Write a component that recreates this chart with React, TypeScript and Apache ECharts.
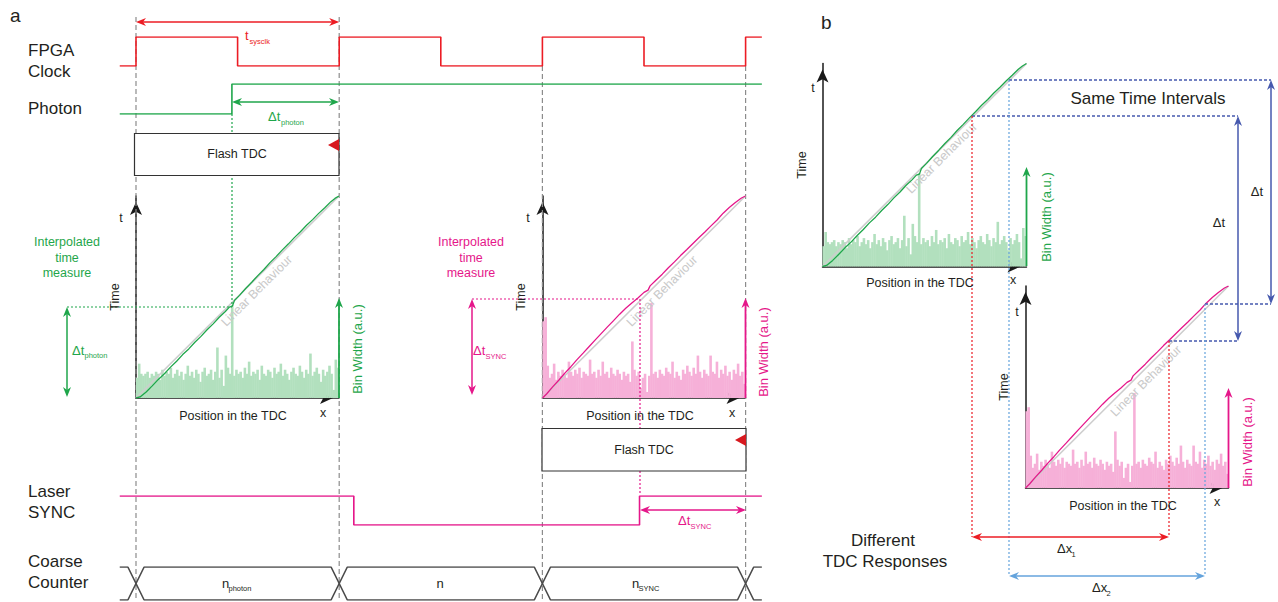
import React, { useEffect, useRef } from 'react';
import * as echarts from 'echarts';

// ---------------- DATA ----------------
// Timing diagram, time in FPGA clock periods (rising edges at integers)
const clockPoints: [number, number][] = [[-0.08, 0], [0, 1], [0.5, 0], [1, 1], [1.5, 0], [2, 1], [2.5, 0], [3, 1], [3.08, 1]];
const photonPoints: [number, number][] = [[-0.08, 0], [0.472, 1], [3.08, 1]];
const syncPoints: [number, number][] = [[-0.08, 1], [1.072, 0], [2.478, 1], [3.08, 1]];
const counterEdges = [0, 1, 2, 3];
const timeRange = [-0.08, 3.08];

// Bin widths (a.u.) of the two TDC responses
const histGreen = [
  10, 17, 12, 11, 12, 13, 10, 12, 11, 13,
  12, 9, 14, 11, 13, 12, 15, 10, 12, 14,
  11, 13, 9, 12, 16, 11, 13, 10, 14, 12,
  8, 13, 15, 11, 12, 14, 9, 13, 25, 10,
  14, 6, 21, 15, 12, 46, 11, 14, 12, 13,
  10, 15, 12, 18, 11, 13, 12, 14, 9, 16,
  12, 11, 14, 13, 10, 15, 12, 13, 17, 11,
  14, 12, 9, 13, 15, 12, 11, 16, 13, 10,
  14, 12, 22, 11, 13, 15, 12, 8, 14, 11,
  13, 16, 12, 4, 19, 15,
];
const histPink = [
  38, 40, 16, 10, 12, 17, 9, 13, 11, 14,
  12, 10, 18, 13, 11, 14, 12, 15, 10, 13,
  12, 11, 19, 12, 13, 10, 14, 11, 18, 12,
  13, 10, 15, 12, 11, 14, 12, 9, 13, 11,
  12, 8, 28, 14, 11, 13, 5, 10, 12, 3,
  11, 47, 12, 13, 10, 14, 12, 11, 15, 13,
  12, 18, 10, 13, 11, 9, 14, 12, 16, 13,
  11, 15, 12, 21, 13, 10, 14, 12, 11, 21,
  13, 12, 18, 10, 14, 12, 16, 11, 13, 9,
  14, 12, 17, 11, 13, 7,
];

// Interpolated time vs position in the TDC
const curveGreenX = [0, 2, 5, 8, 11, 14, 17, 20, 23, 26, 29, 32, 35, 38, 41, 44, 46, 47.5, 48.5, 51, 54, 57, 60, 63, 66, 69, 72, 75, 78, 81, 84, 87, 90, 93, 96, 98, 100];
const curveGreenY = [0, 0.5, 3, 6, 9.2, 12, 15.3, 18.2, 21.5, 24.3, 27.6, 30.5, 33.8, 36.7, 40, 42.8, 45, 45.5, 48.3, 50.8, 54.2, 57.3, 60.6, 63.6, 67, 70, 73.2, 76.2, 79.4, 82.3, 85.5, 88.3, 91.4, 94.2, 97.2, 98.8, 100];
const curvePinkX = [0, 2, 5, 8, 11, 14, 17, 20, 23, 26, 29, 32, 35, 38, 41, 44, 47, 50, 52, 53, 56, 59, 62, 65, 68, 71, 74, 77, 80, 83, 86, 89, 92, 95, 98, 100];
const curvePinkY = [0, 2, 5.5, 8.8, 12.3, 15.5, 19, 22.2, 25.5, 28.8, 32, 35.2, 38.3, 41.5, 44.4, 47, 49.5, 52.3, 53.4, 55.5, 58.4, 61.3, 64.5, 67.4, 70.5, 73.4, 76.4, 79.3, 82.2, 85.2, 88.1, 91.5, 94.3, 96.8, 99, 100];
const linearX = [0, 100];
const linearY = [0, 100];

// ---------------- STYLE ----------------
const FONT = '"Liberation Sans", Arial, Helvetica, sans-serif';
const RED = '#ec1c24';
const GREEN = '#1fa64b';
const PINK = '#e5178a';
const DBLUE = '#4659ae';
const LBLUE = '#64a3dc';
const GREY = '#8c8c8c';
const DARK = '#231f20';
const GREEN_BAR = '#b2e0be';
const PINK_BAR = '#f6b0d8';

const P = 203.2; // px per clock period
const X0 = 136;
const TL = X0 + timeRange[0] * P;
const TW = (timeRange[1] - timeRange[0]) * P;

function txt(text: string, x: number, y: number, size: number, color: string, align = 'center', rot = 0) {
  return {
    type: 'text', x, y, rotation: rot, z: 80,
    style: { text, fill: color, font: `${size}px ${FONT}`, textAlign: align, textVerticalAlign: 'middle' },
  };
}
function sub(main: string, s: string, x: number, y: number, color: string, subDx: number, subDy = 6) {
  return [txt(main, x, y, 13, color, 'left'), txt(s, x + subDx, y + subDy, 7.5, color, 'left')];
}
function head(tx: number, ty: number, dx: number, dy: number, color: string, len = 10, hw = 4) {
  const px = -dy, py = dx;
  const bx = tx - dx * len, by = ty - dy * len;
  const ix = tx - dx * (len - 3), iy = ty - dy * (len - 3);
  return {
    type: 'polygon', z: 70,
    shape: { points: [[tx, ty], [bx + px * hw, by + py * hw], [ix, iy], [bx - px * hw, by - py * hw]] },
    style: { fill: color },
  };
}
function arrow(x1: number, y1: number, x2: number, y2: number, color: string, both = true, lw = 1.5) {
  const L = Math.hypot(x2 - x1, y2 - y1);
  const dx = (x2 - x1) / L, dy = (y2 - y1) / L;
  const els: any[] = [{
    type: 'line', z: 70,
    shape: { x1: both ? x1 + dx * 5 : x1, y1: both ? y1 + dy * 5 : y1, x2: x2 - dx * 5, y2: y2 - dy * 5 },
    style: { stroke: color, lineWidth: lw },
  }];
  els.push(head(x2, y2, dx, dy, color));
  if (both) els.push(head(x1, y1, -dx, -dy, color));
  return els;
}
function dline(x1: number, y1: number, x2: number, y2: number, color: string, dash = [2, 2], lw = 1.2, z = 40) {
  return { type: 'line', z, shape: { x1, y1, x2, y2 }, style: { stroke: color, lineWidth: lw, lineDash: dash } };
}

const plotGrids = [
  { left: 136, top: 196, width: 203, height: 202 },
  { left: 542.5, top: 196, width: 203, height: 202 },
  { left: 822.5, top: 63.5, width: 204, height: 203 },
  { left: 1025.5, top: 286, width: 203, height: 202 },
];
const timingGrids = [
  { left: TL, top: 37, width: TW, height: 29 },
  { left: TL, top: 84, width: TW, height: 30 },
  { left: TL, top: 496, width: TW, height: 29 },
  { left: TL, top: 567, width: TW, height: 33 },
];

function busLine(start: number): [number, number][] {
  const h = 0.04;
  let lvl = start;
  const pts: [number, number][] = [[timeRange[0], lvl]];
  counterEdges.forEach((e) => {
    pts.push([e - h, lvl]);
    lvl = 1 - lvl;
    pts.push([e + h, lvl]);
  });
  pts.push([timeRange[1], lvl]);
  return pts;
}
const zip = (xs: number[], ys: number[]) => xs.map((x, i) => [x, ys[i]]);

function buildOption() {
  const plots = [
    { hist: histGreen, cx: curveGreenX, cy: curveGreenY, bar: GREEN_BAR, line: GREEN },
    { hist: histPink, cx: curvePinkX, cy: curvePinkY, bar: PINK_BAR, line: PINK },
    { hist: histGreen, cx: curveGreenX, cy: curveGreenY, bar: GREEN_BAR, line: GREEN },
    { hist: histPink, cx: curvePinkX, cy: curvePinkY, bar: PINK_BAR, line: PINK },
  ];
  const axisLine = {
    show: true, onZero: false, symbol: ['none', 'arrow'], symbolSize: [9, 13], symbolOffset: [0, -6],
    lineStyle: { color: '#1a1a1a', width: 1.5 },
  };
  const xAxis: any[] = [];
  const yAxis: any[] = [];
  const series: any[] = [];
  plots.forEach((p, i) => {
    xAxis.push({ type: 'category', gridIndex: i, position: 'bottom', show: false, data: p.hist.map((_, k) => k) });
    xAxis.push({
      type: 'value', gridIndex: i, position: 'bottom', min: 0, max: 100, axisLine,
      axisTick: { show: false }, axisLabel: { show: false }, splitLine: { show: false },
    });
    yAxis.push({
      type: 'value', gridIndex: i, min: 0, max: 100, axisLine,
      axisTick: { show: false }, axisLabel: { show: false }, splitLine: { show: false },
    });
    series.push({
      type: 'bar', xAxisIndex: 2 * i, yAxisIndex: i, data: p.hist, barWidth: 2.6,
      itemStyle: { color: p.bar, borderWidth: 0 }, silent: true, z: 2,
    });
    series.push({
      type: 'line', xAxisIndex: 2 * i + 1, yAxisIndex: i, data: zip(linearX, linearY), symbol: 'none',
      lineStyle: { color: '#cdcdcd', width: 1.6 }, silent: true, z: 3,
    });
    series.push({
      type: 'line', xAxisIndex: 2 * i + 1, yAxisIndex: i, data: zip(p.cx, p.cy), symbol: 'none',
      lineStyle: { color: p.line, width: 1.3 }, silent: true, z: 4,
    });
  });
  timingGrids.forEach((_, j) => {
    xAxis.push({ type: 'value', gridIndex: 4 + j, min: timeRange[0], max: timeRange[1], show: false });
    yAxis.push({ type: 'value', gridIndex: 4 + j, min: 0, max: 1, show: false });
  });
  const sig = (j: number, data: any, color: string, step: any) => ({
    type: 'line', xAxisIndex: 8 + j, yAxisIndex: 4 + j, data, step, symbol: 'none',
    lineStyle: { color, width: 1.6 }, silent: true, z: 5,
  });
  series.push(sig(0, clockPoints, RED, 'end'));
  series.push(sig(1, photonPoints, GREEN, 'end'));
  series.push(sig(2, syncPoints, PINK, 'end'));
  series.push(sig(3, busLine(1), '#4a4a4a', false));
  series.push(sig(3, busLine(0), '#4a4a4a', false));

  const edgesPx = [0, 1, 2, 3].map((k) => X0 + k * P);
  const g: any[] = [];
  // grey guide lines
  g.push(dline(edgesPx[0], 17, edgesPx[0], 600, GREY, [5, 3], 1.2, 1));
  g.push(dline(edgesPx[1], 17, edgesPx[1], 600, GREY, [5, 3], 1.2, 1));
  g.push(dline(edgesPx[2], 66, edgesPx[2], 600, GREY, [5, 3], 1.2, 1));
  g.push(dline(edgesPx[3], 66, edgesPx[3], 600, GREY, [5, 3], 1.2, 1));

  // panel letters & signal names
  g.push(txt('a', 10, 15, 19, DARK, 'left'));
  g.push(txt('b', 821, 22, 19, DARK, 'left'));
  g.push(txt('FPGA', 28, 50, 17, DARK, 'left'));
  g.push(txt('Clock', 28, 71, 17, DARK, 'left'));
  g.push(txt('Photon', 28, 108, 17, DARK, 'left'));
  g.push(txt('Laser', 28, 491, 17, DARK, 'left'));
  g.push(txt('SYNC', 28, 512, 17, DARK, 'left'));
  g.push(txt('Coarse', 28, 561, 17, DARK, 'left'));
  g.push(txt('Counter', 28, 582, 17, DARK, 'left'));

  // t_sysclk
  g.push(...arrow(edgesPx[0], 22, edgesPx[1], 22, RED, true, 1.5));
  g.push(...sub('t', 'sysclk', 245, 35, RED, 4.5, 6.5));
  // photon
  g.push(...arrow(232, 102, 339, 102, GREEN, true, 1.5));
  g.push(...sub('Δt', 'photon', 268, 116, GREEN, 13, 6.5));
  g.push(dline(232, 114, 232, 306, GREEN));
  g.push(dline(67, 307, 232, 307, GREEN));
  g.push(...arrow(67, 307, 67, 397, GREEN, true, 1.5));
  g.push(...sub('Δt', 'photon', 72, 350, GREEN, 12.5, 5.5));
  ['Interpolated', 'time', 'measure'].forEach((s, k) => g.push(txt(s, 67, 242 + k * 15.5, 12.5, GREEN)));

  // Flash TDC boxes
  g.push(dline(640, 299, 640, 495, PINK, [2, 2], 1.2, 40));
  g.push(dline(472, 299, 640, 299, PINK));
  g.push({ type: 'rect', z: 50, shape: { x: 134.5, y: 133.5, width: 204.5, height: 42 }, style: { fill: '#fff', stroke: '#333', lineWidth: 1.2 } });
  g.push({ type: 'polygon', z: 55, shape: { points: [[339, 139], [339, 151], [328, 145]] }, style: { fill: '#d7191f' } });
  g.push(txt('Flash TDC', 237, 154, 12.5, DARK));
  g.push({ type: 'rect', z: 50, shape: { x: 542, y: 428.5, width: 204, height: 42.5 }, style: { fill: '#fff', stroke: '#333', lineWidth: 1.2 } });
  g.push({ type: 'polygon', z: 55, shape: { points: [[746, 434], [746, 446], [735, 440]] }, style: { fill: '#d7191f' } });
  g.push(txt('Flash TDC', 644, 449.5, 12.5, DARK));

  // sync annotations
  g.push(...arrow(472, 299, 472, 395, PINK, true, 1.5));
  g.push(...sub('Δt', 'SYNC', 473, 350, PINK, 12.5, 6));
  ['Interpolated', 'time', 'measure'].forEach((s, k) => g.push(txt(s, 471, 242 + k * 15.5, 12.5, PINK)));
  g.push(...arrow(640, 510, 746, 510, PINK, true, 1.5));
  g.push(...sub('Δt', 'SYNC', 678, 520, PINK, 12.5, 6.5));

  // coarse counter labels
  g.push(...sub('n', 'photon', 222, 583, DARK, 6.5, 5.5));
  g.push(txt('n', 440, 583, 13, DARK));
  g.push(...sub('n', 'SYNC', 632, 583, DARK, 6.5, 5.5));

  // plot labels
  const plotLabels = [
    { t: [121, 218], time: [115, 297], pos: [233, 416], x: [323, 413], bin: [357, 349], binColor: GREEN, lin: [256.7, 290.8], arrowX: 339, base: 398, top: 298 },
    { t: [528, 218], time: [521, 297], pos: [640, 416], x: [732, 413], bin: [763, 352], binColor: PINK, lin: [662, 291], arrowX: 745.5, base: 398, top: 298 },
    { t: [813, 88], time: [802, 165], pos: [920, 283], x: [1013, 280], bin: [1046, 217], binColor: GREEN, lin: [941.7, 158], arrowX: 1026.5, base: 266, top: 167 },
    { t: [1017, 312], time: [1004, 387], pos: [1123, 506], x: [1217, 502], bin: [1247, 442], binColor: PINK, lin: [1146, 381], arrowX: 1228.5, base: 488, top: 388 },
  ];
  plotLabels.forEach((L) => {
    g.push(txt('t', L.t[0], L.t[1], 12.5, DARK));
    g.push(txt('Time', L.time[0], L.time[1], 12.5, DARK, 'center', Math.PI / 2));
    g.push(txt('Position in the TDC', L.pos[0], L.pos[1], 12.5, DARK));
    g.push(txt('x', L.x[0], L.x[1], 12.5, DARK));
    g.push(txt('Bin Width (a.u.)', L.bin[0], L.bin[1], 13, L.binColor, 'center', Math.PI / 2));
    g.push({ ...txt('Linear Behaviour', L.lin[0], L.lin[1], 12.5, '#c9c9c9', 'center', Math.PI / 4), z: 3 });
    g.push(...arrow(L.arrowX, L.base, L.arrowX, L.top, L.binColor, false, 1.8));
  });

  // panel b annotations
  g.push(txt('Same Time Intervals', 1148, 98, 17, DARK));
  g.push(dline(1009, 80, 1271, 80, DBLUE, [3, 2], 1.3));
  g.push(dline(972, 116, 1238, 116, DBLUE, [3, 2], 1.3));
  g.push(dline(1205, 304, 1271, 304, DBLUE, [3, 2], 1.3));
  g.push(dline(1169, 341, 1238, 341, DBLUE, [3, 2], 1.3));
  g.push(dline(972, 116, 972, 537, RED, [2, 2], 1.2));
  g.push(dline(1169, 341, 1169, 537, RED, [2, 2], 1.2));
  g.push(dline(1009, 80, 1009, 576, LBLUE, [2, 2], 1.2));
  g.push(dline(1205, 304, 1205, 576, LBLUE, [2, 2], 1.2));
  g.push(...arrow(1271, 80, 1271, 304, DBLUE, true, 1.5));
  g.push(...arrow(1238, 116, 1238, 341, DBLUE, true, 1.5));
  g.push(txt('Δt', 1257, 191, 13, DARK));
  g.push(txt('Δt', 1219, 222, 13, DARK));
  g.push(...arrow(972, 537, 1169, 537, RED, true, 1.5));
  g.push(...arrow(1009, 576, 1205, 576, LBLUE, true, 1.5));
  g.push(...sub('Δx', '1', 1057, 548, DARK, 14.5, 6));
  g.push(...sub('Δx', '2', 1092, 587, DARK, 14.5, 6));
  g.push(txt('Different', 883, 540, 17, DARK));
  g.push(txt('TDC Responses', 885, 561, 17, DARK));

  return {
    animation: false,
    backgroundColor: '#ffffff',
    grid: [...plotGrids, ...timingGrids].map((gr) => ({ ...gr, containLabel: false })),
    xAxis,
    yAxis,
    series,
    graphic: { elements: g },
  };
}

export default function App() {
  const ref = useRef<HTMLDivElement>(null);
  useEffect(() => {
    document.body.style.margin = '0';
    if (!ref.current) return;
    const chart = echarts.init(ref.current, null, { renderer: 'svg' });
    chart.setOption(buildOption() as any);
    return () => chart.dispose();
  }, []);
  return <div ref={ref} style={{ width: 1278, height: 602 }} />;
}
